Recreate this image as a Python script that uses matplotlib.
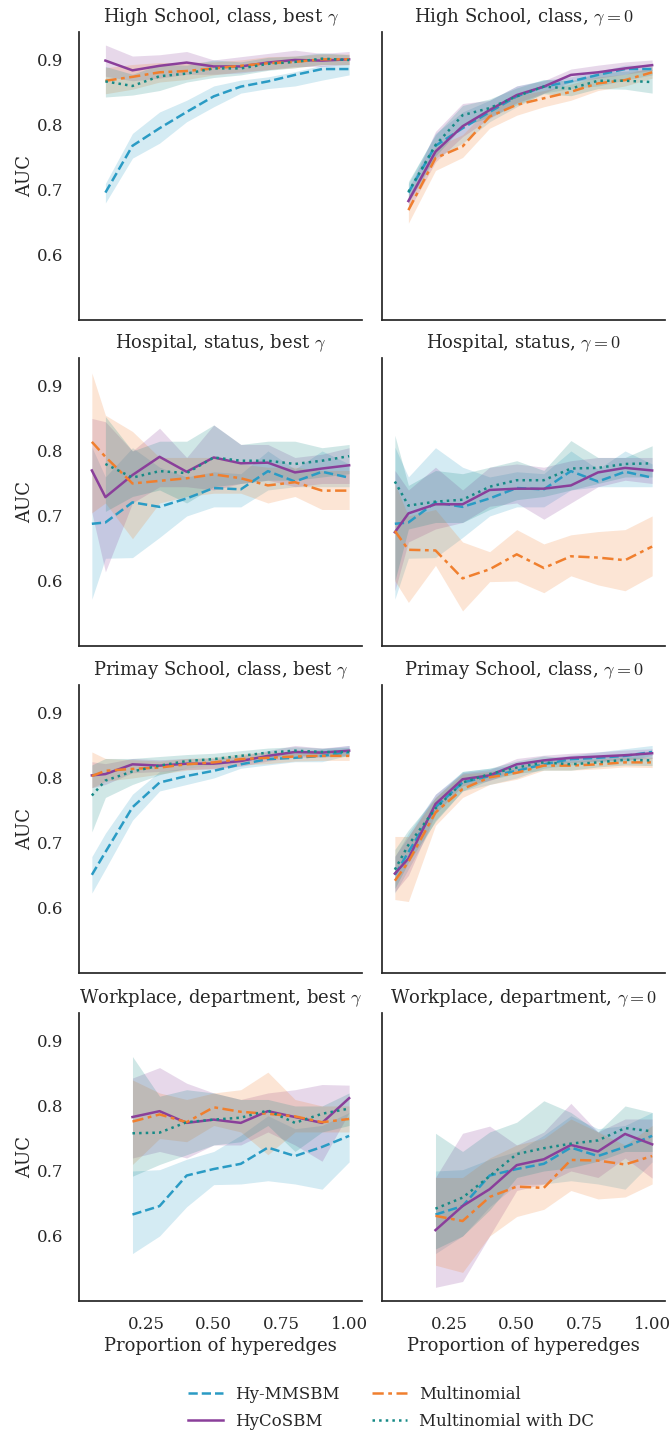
import numpy as np
import matplotlib
matplotlib.use("Agg")
import matplotlib.pyplot as plt
from matplotlib.ticker import FormatStrFormatter

plt.rcParams['font.family'] = ['DejaVu Serif']
plt.rcParams['mathtext.fontset'] = 'cm'
plt.rcParams['font.size'] = 12

nan = np.nan

# x positions (proportion of hyperedges)
x_hs = [0.1, 0.2, 0.3, 0.4, 0.5, 0.6, 0.7, 0.8, 0.9, 1.0]
x_hosp = [0.05, 0.1, 0.2, 0.3, 0.4, 0.5, 0.6, 0.7, 0.8, 0.9, 1.0]
x_prim = [0.05, 0.1, 0.2, 0.3, 0.4, 0.5, 0.6, 0.7, 0.8, 0.9, 1.0]
x_work = [0.2, 0.3, 0.4, 0.5, 0.6, 0.7, 0.8, 0.9, 1.0]

labels = ['Hy-MMSBM', 'HyCoSBM', 'Multinomial', 'Multinomial with DC']
colors = ['#2a9bc4', '#8a3f9a', '#f07f2e', '#168a86']
styles = ['--', '-', (0, (4.5, 1.8, 1.5, 1.8)), ':']

titles = ['High School, class, best $\\gamma$', 'High School, class, $\\gamma=0$',
          'Hospital, status, best $\\gamma$', 'Hospital, status, $\\gamma=0$',
          'Primay School, class, best $\\gamma$', 'Primay School, class, $\\gamma=0$',
          'Workplace, department, best $\\gamma$', 'Workplace, department, $\\gamma=0$']

# ---- High School ----
mmsbm_hs = [0.696, 0.768, 0.795, 0.820, 0.844, 0.859, 0.867, 0.877, 0.886, 0.886]
mmsbm_hs_lo = [0.680, 0.749, 0.772, 0.805, 0.828, 0.849, 0.856, 0.860, 0.869, 0.877]
mmsbm_hs_hi = [0.710, 0.787, 0.820, 0.838, 0.860, 0.869, 0.874, 0.882, 0.892, 0.892]

hs_best_hyco = [0.899, 0.884, 0.891, 0.896, 0.890, 0.890, 0.896, 0.900, 0.899, 0.901]
hs_best_hyco_lo = [0.875, 0.868, 0.872, 0.878, 0.878, 0.880, 0.885, 0.890, 0.890, 0.893]
hs_best_hyco_hi = [0.923, 0.906, 0.908, 0.913, 0.900, 0.905, 0.910, 0.915, 0.910, 0.913]
hs_best_multi = [0.868, 0.874, 0.881, 0.883, 0.887, 0.891, 0.895, 0.897, 0.901, 0.901]
hs_best_multi_lo = [0.848, 0.855, 0.866, 0.870, 0.877, 0.882, 0.885, 0.888, 0.893, 0.893]
hs_best_multi_hi = [0.888, 0.893, 0.896, 0.896, 0.897, 0.900, 0.905, 0.906, 0.909, 0.909]
hs_best_dc = [0.867, 0.860, 0.875, 0.879, 0.887, 0.887, 0.894, 0.897, 0.902, 0.900]
hs_best_dc_lo = [0.843, 0.846, 0.853, 0.866, 0.873, 0.877, 0.884, 0.888, 0.893, 0.892]
hs_best_dc_hi = [0.890, 0.878, 0.893, 0.892, 0.900, 0.897, 0.904, 0.906, 0.911, 0.908]

hs_zero_hyco = [0.683, 0.759, 0.798, 0.823, 0.846, 0.859, 0.877, 0.881, 0.887, 0.892]
hs_zero_hyco_lo = [0.668, 0.743, 0.782, 0.810, 0.834, 0.849, 0.866, 0.872, 0.878, 0.884]
hs_zero_hyco_hi = [0.700, 0.790, 0.833, 0.838, 0.860, 0.868, 0.886, 0.892, 0.897, 0.900]
hs_zero_multi = [0.669, 0.749, 0.767, 0.813, 0.831, 0.841, 0.851, 0.864, 0.869, 0.881]
hs_zero_multi_lo = [0.649, 0.730, 0.750, 0.795, 0.815, 0.828, 0.838, 0.853, 0.860, 0.872]
hs_zero_multi_hi = [0.690, 0.766, 0.785, 0.828, 0.845, 0.853, 0.863, 0.874, 0.878, 0.890]
hs_zero_dc = [0.697, 0.769, 0.815, 0.826, 0.844, 0.859, 0.856, 0.868, 0.868, 0.866]
hs_zero_dc_lo = [0.682, 0.752, 0.798, 0.812, 0.831, 0.848, 0.845, 0.856, 0.855, 0.849]
hs_zero_dc_hi = [0.713, 0.785, 0.830, 0.840, 0.857, 0.870, 0.868, 0.880, 0.883, 0.885]

# ---- Hospital ----
mmsbm_hosp = [0.688, 0.690, 0.721, 0.714, 0.727, 0.743, 0.741, 0.769, 0.753, 0.768, 0.759]
mmsbm_hosp_lo = [0.572, 0.635, 0.636, 0.667, 0.700, 0.714, 0.714, 0.740, 0.745, 0.745, 0.745]
mmsbm_hosp_hi = [0.806, 0.760, 0.805, 0.775, 0.760, 0.768, 0.765, 0.800, 0.772, 0.800, 0.780]

hosp_best_hyco = [0.770, 0.729, 0.763, 0.791, 0.768, 0.790, 0.781, 0.782, 0.767, 0.773, 0.778]
hosp_best_hyco_lo = [0.705, 0.614, 0.720, 0.745, 0.745, 0.740, 0.750, 0.755, 0.745, 0.750, 0.750]
hosp_best_hyco_hi = [0.850, 0.845, 0.800, 0.835, 0.790, 0.840, 0.810, 0.810, 0.790, 0.795, 0.805]
hosp_best_multi = [0.814, 0.791, 0.750, 0.754, 0.758, 0.764, 0.758, 0.747, 0.752, 0.739, 0.739]
hosp_best_multi_lo = [0.705, 0.720, 0.665, 0.720, 0.730, 0.735, 0.735, 0.720, 0.730, 0.710, 0.710]
hosp_best_multi_hi = [0.920, 0.855, 0.830, 0.790, 0.790, 0.790, 0.780, 0.775, 0.775, 0.770, 0.770]
hosp_best_dc = [nan, 0.780, 0.759, 0.769, 0.766, 0.790, 0.785, 0.785, 0.780, 0.785, 0.792]
hosp_best_dc_lo = [nan, 0.707, 0.730, 0.740, 0.720, 0.745, 0.750, 0.755, 0.755, 0.760, 0.765]
hosp_best_dc_hi = [nan, 0.853, 0.800, 0.815, 0.815, 0.840, 0.810, 0.815, 0.815, 0.805, 0.810]

hosp_zero_hyco = [0.675, 0.704, 0.718, 0.718, 0.740, 0.742, 0.742, 0.747, 0.767, 0.774, 0.770]
hosp_zero_hyco_lo = [0.585, 0.660, 0.680, 0.690, 0.715, 0.720, 0.695, 0.720, 0.745, 0.755, 0.750]
hosp_zero_hyco_hi = [0.770, 0.740, 0.775, 0.740, 0.775, 0.780, 0.775, 0.785, 0.790, 0.790, 0.790]
hosp_zero_multi = [0.677, 0.648, 0.647, 0.604, 0.618, 0.641, 0.620, 0.638, 0.636, 0.632, 0.653]
hosp_zero_multi_lo = [0.600, 0.567, 0.624, 0.554, 0.599, 0.600, 0.582, 0.608, 0.594, 0.585, 0.608]
hosp_zero_multi_hi = [0.750, 0.700, 0.710, 0.660, 0.645, 0.679, 0.657, 0.671, 0.676, 0.679, 0.700]
hosp_zero_dc = [0.753, 0.716, 0.722, 0.725, 0.745, 0.755, 0.755, 0.773, 0.774, 0.780, 0.781]
hosp_zero_dc_lo = [0.600, 0.680, 0.690, 0.690, 0.710, 0.725, 0.730, 0.740, 0.750, 0.760, 0.760]
hosp_zero_dc_hi = [0.824, 0.747, 0.770, 0.765, 0.775, 0.785, 0.770, 0.816, 0.790, 0.790, 0.808]

# ---- Primary School ----
mmsbm_prim = [0.651, 0.686, 0.755, 0.793, 0.803, 0.811, 0.821, 0.829, 0.831, 0.834, 0.840]
mmsbm_prim_lo = [0.623, 0.660, 0.735, 0.780, 0.790, 0.800, 0.815, 0.820, 0.825, 0.825, 0.835]
mmsbm_prim_hi = [0.679, 0.715, 0.775, 0.810, 0.815, 0.820, 0.830, 0.835, 0.840, 0.845, 0.850]

prim_best_hyco = [0.804, 0.806, 0.821, 0.819, 0.822, 0.822, 0.826, 0.834, 0.840, 0.839, 0.842]
prim_best_hyco_lo = [0.785, 0.790, 0.808, 0.810, 0.813, 0.814, 0.818, 0.826, 0.832, 0.832, 0.835]
prim_best_hyco_hi = [0.825, 0.822, 0.830, 0.828, 0.830, 0.830, 0.834, 0.842, 0.850, 0.846, 0.850]
prim_best_multi = [0.803, 0.811, 0.814, 0.816, 0.821, 0.824, 0.829, 0.831, 0.833, 0.834, 0.834]
prim_best_multi_lo = [0.785, 0.795, 0.800, 0.806, 0.812, 0.815, 0.820, 0.822, 0.826, 0.827, 0.827]
prim_best_multi_hi = [0.840, 0.830, 0.828, 0.826, 0.830, 0.832, 0.837, 0.840, 0.840, 0.842, 0.842]
prim_best_dc = [0.773, 0.796, 0.810, 0.819, 0.826, 0.829, 0.834, 0.839, 0.842, 0.840, 0.840]
prim_best_dc_lo = [0.717, 0.770, 0.790, 0.805, 0.815, 0.820, 0.826, 0.832, 0.835, 0.833, 0.833]
prim_best_dc_hi = [0.820, 0.830, 0.830, 0.833, 0.836, 0.838, 0.842, 0.846, 0.848, 0.846, 0.847]

prim_zero_hyco = [0.653, 0.676, 0.760, 0.798, 0.804, 0.821, 0.827, 0.831, 0.833, 0.835, 0.838]
prim_zero_hyco_lo = [0.625, 0.650, 0.745, 0.788, 0.796, 0.812, 0.820, 0.824, 0.826, 0.828, 0.830]
prim_zero_hyco_hi = [0.680, 0.710, 0.775, 0.808, 0.813, 0.830, 0.835, 0.838, 0.840, 0.843, 0.845]
prim_zero_multi = [0.642, 0.671, 0.747, 0.783, 0.801, 0.808, 0.819, 0.819, 0.821, 0.824, 0.824]
prim_zero_multi_lo = [0.613, 0.610, 0.727, 0.770, 0.790, 0.798, 0.812, 0.812, 0.814, 0.817, 0.816]
prim_zero_multi_hi = [0.710, 0.710, 0.770, 0.806, 0.810, 0.818, 0.827, 0.826, 0.829, 0.832, 0.832]
prim_zero_dc = [0.659, 0.697, 0.753, 0.793, 0.806, 0.816, 0.824, 0.821, 0.824, 0.828, 0.827]
prim_zero_dc_lo = [0.630, 0.670, 0.733, 0.780, 0.797, 0.807, 0.812, 0.812, 0.817, 0.820, 0.819]
prim_zero_dc_hi = [0.690, 0.720, 0.770, 0.810, 0.815, 0.826, 0.834, 0.830, 0.832, 0.838, 0.836]

# ---- Workplace ----
mmsbm_work = [0.633, 0.646, 0.693, 0.703, 0.711, 0.736, 0.723, 0.737, 0.754]
mmsbm_work_lo = [0.573, 0.600, 0.645, 0.679, 0.680, 0.685, 0.680, 0.672, 0.714]
mmsbm_work_hi = [0.700, 0.702, 0.718, 0.730, 0.755, 0.785, 0.765, 0.770, 0.790]

work_best_hyco = [0.783, 0.792, 0.774, 0.779, 0.774, 0.792, 0.783, 0.774, 0.812]
work_best_hyco_lo = [0.720, 0.730, 0.720, 0.740, 0.740, 0.760, 0.740, 0.715, 0.790]
work_best_hyco_hi = [0.843, 0.859, 0.835, 0.820, 0.810, 0.820, 0.825, 0.833, 0.832]
work_best_multi = [0.776, 0.787, 0.775, 0.798, 0.791, 0.788, 0.784, 0.775, 0.780]
work_best_multi_lo = [0.710, 0.750, 0.745, 0.770, 0.760, 0.725, 0.760, 0.760, 0.760]
work_best_multi_hi = [0.840, 0.820, 0.810, 0.820, 0.825, 0.852, 0.810, 0.800, 0.800]
work_best_dc = [0.758, 0.759, 0.775, 0.779, 0.782, 0.793, 0.774, 0.788, 0.796]
work_best_dc_lo = [0.692, 0.710, 0.725, 0.740, 0.745, 0.770, 0.730, 0.760, 0.770]
work_best_dc_hi = [0.876, 0.815, 0.825, 0.820, 0.810, 0.810, 0.800, 0.800, 0.820]

work_zero_hyco = [0.609, 0.646, 0.672, 0.709, 0.718, 0.740, 0.730, 0.757, 0.741]
work_zero_hyco_lo = [0.521, 0.530, 0.600, 0.670, 0.680, 0.700, 0.690, 0.720, 0.689]
work_zero_hyco_hi = [0.690, 0.758, 0.769, 0.740, 0.760, 0.804, 0.760, 0.780, 0.780]
work_zero_multi = [0.631, 0.623, 0.660, 0.676, 0.674, 0.717, 0.716, 0.710, 0.723]
work_zero_multi_lo = [0.555, 0.544, 0.600, 0.630, 0.641, 0.670, 0.657, 0.660, 0.680]
work_zero_multi_hi = [0.690, 0.690, 0.720, 0.740, 0.750, 0.780, 0.760, 0.740, 0.770]
work_zero_dc = [0.642, 0.659, 0.692, 0.726, 0.735, 0.742, 0.747, 0.766, 0.761]
work_zero_dc_lo = [0.580, 0.600, 0.640, 0.690, 0.700, 0.705, 0.715, 0.730, 0.730]
work_zero_dc_hi = [0.758, 0.730, 0.760, 0.775, 0.808, 0.790, 0.760, 0.800, 0.790]

panels = [
    (x_hs, [(mmsbm_hs, mmsbm_hs_lo, mmsbm_hs_hi), (hs_best_hyco, hs_best_hyco_lo, hs_best_hyco_hi),
            (hs_best_multi, hs_best_multi_lo, hs_best_multi_hi), (hs_best_dc, hs_best_dc_lo, hs_best_dc_hi)]),
    (x_hs, [(mmsbm_hs, mmsbm_hs_lo, mmsbm_hs_hi), (hs_zero_hyco, hs_zero_hyco_lo, hs_zero_hyco_hi),
            (hs_zero_multi, hs_zero_multi_lo, hs_zero_multi_hi), (hs_zero_dc, hs_zero_dc_lo, hs_zero_dc_hi)]),
    (x_hosp, [(mmsbm_hosp, mmsbm_hosp_lo, mmsbm_hosp_hi), (hosp_best_hyco, hosp_best_hyco_lo, hosp_best_hyco_hi),
              (hosp_best_multi, hosp_best_multi_lo, hosp_best_multi_hi), (hosp_best_dc, hosp_best_dc_lo, hosp_best_dc_hi)]),
    (x_hosp, [(mmsbm_hosp, mmsbm_hosp_lo, mmsbm_hosp_hi), (hosp_zero_hyco, hosp_zero_hyco_lo, hosp_zero_hyco_hi),
              (hosp_zero_multi, hosp_zero_multi_lo, hosp_zero_multi_hi), (hosp_zero_dc, hosp_zero_dc_lo, hosp_zero_dc_hi)]),
    (x_prim, [(mmsbm_prim, mmsbm_prim_lo, mmsbm_prim_hi), (prim_best_hyco, prim_best_hyco_lo, prim_best_hyco_hi),
              (prim_best_multi, prim_best_multi_lo, prim_best_multi_hi), (prim_best_dc, prim_best_dc_lo, prim_best_dc_hi)]),
    (x_prim, [(mmsbm_prim, mmsbm_prim_lo, mmsbm_prim_hi), (prim_zero_hyco, prim_zero_hyco_lo, prim_zero_hyco_hi),
              (prim_zero_multi, prim_zero_multi_lo, prim_zero_multi_hi), (prim_zero_dc, prim_zero_dc_lo, prim_zero_dc_hi)]),
    (x_work, [(mmsbm_work, mmsbm_work_lo, mmsbm_work_hi), (work_best_hyco, work_best_hyco_lo, work_best_hyco_hi),
              (work_best_multi, work_best_multi_lo, work_best_multi_hi), (work_best_dc, work_best_dc_lo, work_best_dc_hi)]),
    (x_work, [(mmsbm_work, mmsbm_work_lo, mmsbm_work_hi), (work_zero_hyco, work_zero_hyco_lo, work_zero_hyco_hi),
              (work_zero_multi, work_zero_multi_lo, work_zero_multi_hi), (work_zero_dc, work_zero_dc_lo, work_zero_dc_hi)]),
]

W, H = 672, 1434
fig = plt.figure(figsize=(W / 100, H / 100), dpi=100)
fig.patch.set_facecolor('white')

ink = '#262626'
lefts = [79, 382]
bottoms = [320, 646, 973, 1301]
aw, ah = 283, 288

axes = []
for i, (x, series) in enumerate(panels):
    r, c = divmod(i, 2)
    rect = [lefts[c] / W, 1 - bottoms[r] / H, aw / W, ah / H]
    ax = fig.add_axes(rect, sharex=axes[0] if axes else None, sharey=axes[0] if axes else None)
    axes.append(ax)
    handles = []
    for (m, lo, hi), col, ls, lab in zip(series, colors, styles, labels):
        ax.fill_between(x, lo, hi, color=col, alpha=0.2, lw=0)
        h, = ax.plot(x, m, color=col, ls=ls, lw=1.8, label=lab)
        handles.append(h)
    ax.set_title(titles[i], fontsize=13, color=ink, pad=7)
    for s in ['top', 'right']:
        ax.spines[s].set_visible(False)
    for s in ['left', 'bottom']:
        ax.spines[s].set_color(ink)
        ax.spines[s].set_linewidth(1.25)
    ax.tick_params(length=0, labelsize=12, colors=ink, pad=11)
    if c == 0:
        ax.set_ylabel('AUC', fontsize=13, color=ink, labelpad=2)
    else:
        ax.tick_params(labelleft=False)
    if r == 3:
        ax.set_xlabel('Proportion of hyperedges', fontsize=13, color=ink, labelpad=3)
    else:
        ax.tick_params(labelbottom=False)

axes[0].set_ylim(0.5, 0.943)
axes[0].set_yticks([0.6, 0.7, 0.8, 0.9])
axes[0].set_xlim(0.0025, 1.0475)
axes[0].set_xticks([0.25, 0.5, 0.75, 1.0])
axes[0].xaxis.set_major_formatter(FormatStrFormatter('%.2f'))

fig.legend(handles=handles, labels=labels, ncol=2, frameon=False, fontsize=12,
           loc='center', bbox_to_anchor=(391 / W, 1 - 1408 / H),
           handlelength=2.1, handletextpad=0.75, columnspacing=1.9, labelspacing=0.6,
           labelcolor=ink)

fig.savefig('out.png', dpi=100, facecolor='white')
